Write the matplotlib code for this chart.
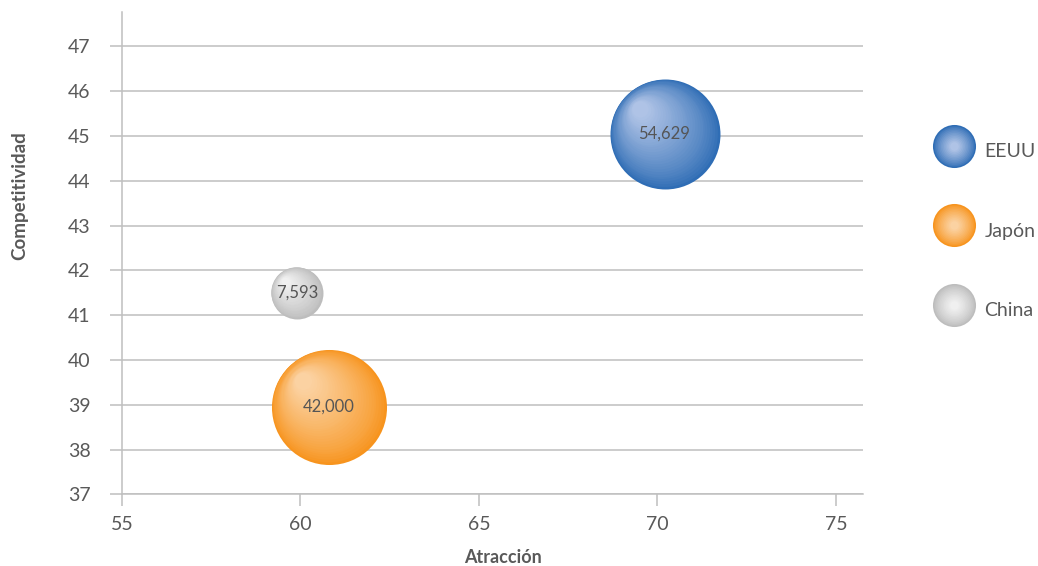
import numpy as np
import matplotlib
matplotlib.use("Agg")
import matplotlib.pyplot as plt
import matplotlib.transforms as mtransforms
from matplotlib.colors import to_rgb
from matplotlib.lines import Line2D
from matplotlib.legend_handler import HandlerTuple

plt.rcParams['font.family'] = ['Lato', 'DejaVu Sans']

# data
countries = ['EEUU', 'Japón', 'China']
atraccion = [70.2, 60.8, 59.9]
competitividad = [45.05, 38.95, 41.5]
bubble_size = [6270, 6860, 1400]          # marker area (pt^2) as seen in the chart
bubble_label = ['54,629', '42,000', '7,593']

x_ticks = [55, 60, 65, 70, 75]
y_ticks = [37, 38, 39, 40, 41, 42, 43, 44, 45, 46, 47]

# edge (dark) and highlight (light) colour of each bubble
dark = ['#2F6DB5', '#F7941E', '#BDBDBD']
light = ['#AFC3E6', '#FBD2A2', '#F0F0F0']

text_col = '#595959'
grid_col = '#BFBFBF'
n_layers = 30


def mix(c1, c2, t):
    a, b = np.array(to_rgb(c1)), np.array(to_rgb(c2))
    return tuple(a + (b - a) * t)


fig = plt.figure(figsize=(10.38, 5.66), dpi=100)
ax = fig.add_axes([0.1175, 0.1267, 0.7139, 0.8521])

# shaded bubbles: stacked circles shrinking toward the upper-left highlight
for i in range(len(countries)):
    d = np.sqrt(bubble_size[i])
    for k in range(n_layers):
        t = k / (n_layers - 1)
        scale = 1 - 0.85 * t
        shift = 0.28 * d * t
        tr = mtransforms.offset_copy(ax.transData, fig=fig, x=-shift * 0.8,
                                     y=shift * 0.8, units='points')
        ax.scatter([atraccion[i]], [competitividad[i]], s=(d * scale) ** 2,
                   color=mix(dark[i], light[i], t ** 0.8), transform=tr,
                   linewidths=0, zorder=3 + k * 0.001)
    ax.text(atraccion[i], competitividad[i], bubble_label[i], ha='center',
            va='center', fontsize=12, color='#555555', zorder=5)

ax.set_xlim(55, 75.76)
ax.set_ylim(37, 47.77)
ax.set_xticks(x_ticks)
ax.set_yticks(y_ticks)
ax.grid(axis='y', color=grid_col, linewidth=1.1, zorder=0)
ax.set_axisbelow(True)
for s in ['top', 'right']:
    ax.spines[s].set_visible(False)
for s in ['left', 'bottom']:
    ax.spines[s].set_color(grid_col)
    ax.spines[s].set_linewidth(1.1)
ax.tick_params(colors=grid_col, labelcolor=text_col, labelsize=14,
               length=8.5, width=1.1)
ax.tick_params(axis='x', pad=7)
ax.tick_params(axis='y', pad=14)

ax.set_xlabel('Atracción', fontsize=13, fontweight='bold', color=text_col)
ax.set_ylabel('Competitividad', fontsize=13.5, fontweight='bold', color=text_col)
ax.xaxis.set_label_coords(0.514, -0.113)
ax.yaxis.set_label_coords(-0.126, 0.62)

# legend with layered markers
handles = []
for i in range(len(countries)):
    layers = []
    for k in range(12):
        t = k / 11
        layers.append(Line2D([], [], linestyle='none', marker='o',
                             markersize=31 * (1 - 0.8 * t),
                             markerfacecolor=mix(dark[i], light[i], t ** 0.8),
                             markeredgewidth=0))
    handles.append(tuple(layers))

leg = fig.legend(handles, countries, loc='center left',
                 bbox_to_anchor=(0.8876, 0.592), frameon=False, fontsize=14,
                 labelcolor=text_col, handler_map={tuple: HandlerTuple(ndivide=1)},
                 handlelength=1.6, handleheight=2.3, labelspacing=2.35,
                 handletextpad=0.75)

fig.savefig('out.png', dpi=100)
